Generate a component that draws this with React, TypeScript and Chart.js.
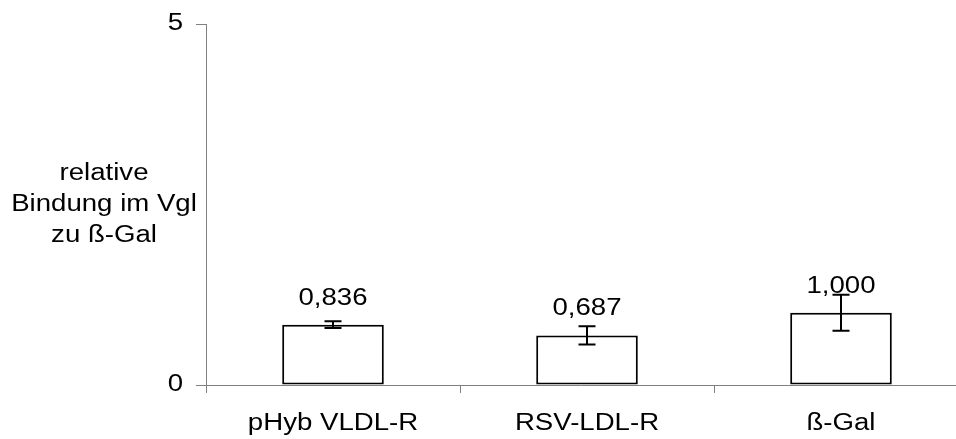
import React, { useEffect, useRef } from "react";
import { Chart, registerables } from "chart.js";

Chart.register(...registerables);

const categories = ["pHyb VLDL-R", "RSV-LDL-R", "ß-Gal"];
const values = [0.836, 0.687, 1.0];
const errors = [0.048, 0.125, 0.25];
const yTicks = [0, 5];
const yTitleLines = ["relative", "Bindung im Vgl", "zu ß-Gal"];

const FONT = '23px "Liberation Sans", Arial, sans-serif';
const STRETCH = 1.2;
const AXIS_COLOR = "#808080";

function drawText(ctx: CanvasRenderingContext2D, text: string, x: number, y: number, align: CanvasTextAlign, baseline: CanvasTextBaseline) {
  ctx.save();
  ctx.translate(x, y);
  ctx.scale(STRETCH, 1);
  ctx.font = FONT;
  ctx.fillStyle = "#000000";
  ctx.textAlign = align;
  ctx.textBaseline = baseline;
  ctx.fillText(text, 0, 0);
  ctx.restore();
}

const overlayPlugin = {
  id: "overlay",
  afterDatasetsDraw(chart: any) {
    const ctx = chart.ctx as CanvasRenderingContext2D;
    const xs = chart.scales.x;
    const ys = chart.scales.y;
    ctx.save();
    ctx.strokeStyle = "#000000";
    ctx.lineWidth = 2;
    values.forEach((v, i) => {
      const x = Math.round(xs.getPixelForValue(i));
      const yTop = ys.getPixelForValue(v + errors[i]);
      const yBot = ys.getPixelForValue(v - errors[i]);
      const cap = 8.5;
      ctx.beginPath();
      ctx.moveTo(x, yTop);
      ctx.lineTo(x, yBot);
      ctx.moveTo(x - cap, yTop);
      ctx.lineTo(x + cap, yTop);
      ctx.moveTo(x - cap, yBot);
      ctx.lineTo(x + cap, yBot);
      ctx.stroke();
    });
    ctx.restore();
  },
  afterDraw(chart: any) {
    const ctx = chart.ctx as CanvasRenderingContext2D;
    const xs = chart.scales.x;
    const ys = chart.scales.y;
    const area = chart.chartArea;
    values.forEach((v, i) => {
      const x = xs.getPixelForValue(i);
      const y = ys.getPixelForValue(v) - 20;
      drawText(ctx, v.toFixed(3).replace(".", ","), x, y, "center", "alphabetic");
    });
    categories.forEach((c, i) => {
      drawText(ctx, c, xs.getPixelForValue(i), area.bottom + 45, "center", "alphabetic");
    });
    yTicks.forEach((t) => {
      drawText(ctx, String(t), area.left - 23, ys.getPixelForValue(t), "right", "middle");
    });
    const mid = (area.top + area.bottom) / 2;
    yTitleLines.forEach((line, i) => {
      drawText(ctx, line, 104, mid + 6.5 + (i - 1) * 31, "center", "alphabetic");
    });
  },
};

export default function App() {
  const ref = useRef<HTMLCanvasElement | null>(null);

  useEffect(() => {
    if (!ref.current) return;
    const xMin = -0.5;
    const xMax = -0.5 + 750 / 254;
    const chart = new Chart(ref.current, {
      type: "bar",
      data: {
        datasets: [
          {
            data: values.map((v, i) => ({ x: i, y: v })),
            backgroundColor: "#ffffff",
            borderColor: "#000000",
            borderWidth: 2,
            borderSkipped: false,
            barPercentage: 0.4,
            categoryPercentage: 1,
          },
        ],
      },
      options: {
        responsive: false,
        animation: false,
        devicePixelRatio: 1,
        layout: { padding: { left: 196, top: 24, right: 0, bottom: 0 } },
        plugins: { legend: { display: false }, tooltip: { enabled: false } },
        scales: {
          x: {
            type: "linear",
            offset: false,
            bounds: "data",
            min: xMin,
            max: xMax,
            afterBuildTicks: (scale: any) => {
              scale.ticks = [-0.5, 0.5, 1.5, 2.5].map((v) => ({ value: v }));
              scale.min = xMin;
              scale.max = xMax;
            },
            afterFit: (scale: any) => {
              scale.height = 54;
            },
            ticks: { display: false },
            grid: { display: true, offset: false, drawOnChartArea: false, drawTicks: true, tickLength: 8, color: AXIS_COLOR, lineWidth: 1 },
            border: { display: true, color: AXIS_COLOR, width: 1 },
          },
          y: {
            type: "linear",
            bounds: "data",
            min: 0,
            max: 5,
            afterBuildTicks: (scale: any) => {
              scale.ticks = yTicks.map((v) => ({ value: v }));
              scale.min = 0;
              scale.max = 5;
            },
            afterFit: (scale: any) => {
              scale.width = 10;
            },
            ticks: { display: false },
            grid: { display: true, drawOnChartArea: false, drawTicks: true, tickLength: 10, color: AXIS_COLOR, lineWidth: 1 },
            border: { display: true, color: AXIS_COLOR, width: 1 },
          },
        },
      } as any,
      plugins: [overlayPlugin],
    });
    return () => chart.destroy();
  }, []);

  return (
    <div style={{ position: "absolute", left: 0, top: 0, width: 956, height: 439, background: "#ffffff" }}>
      <canvas ref={ref} width={956} height={439} style={{ display: "block", width: 956, height: 439 }} />
    </div>
  );
}
